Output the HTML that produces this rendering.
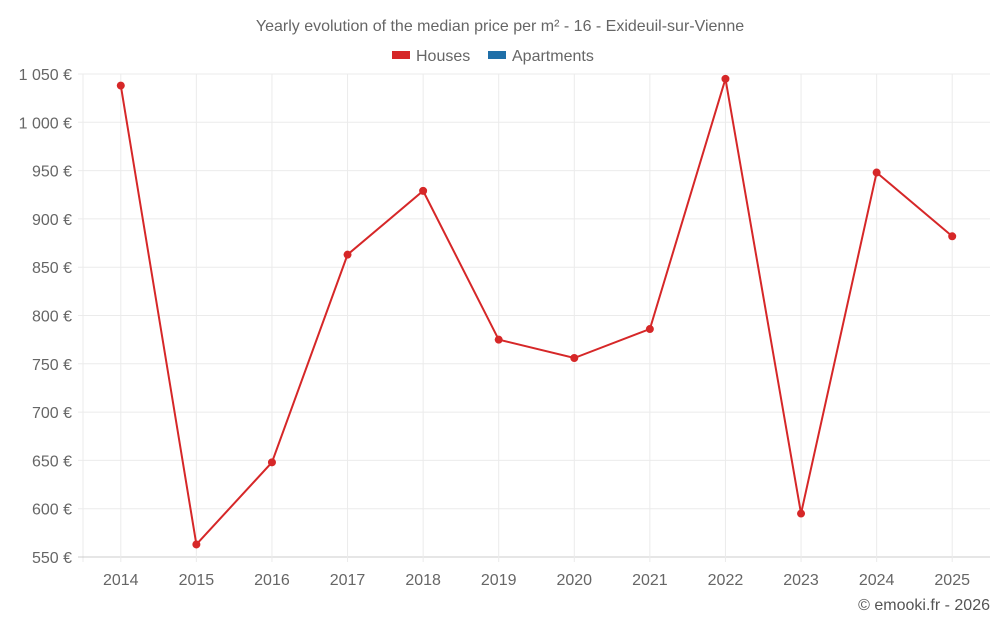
<!DOCTYPE html>
<html><head><meta charset="utf-8"><style>
body{margin:0;background:#fff;font-family:"Liberation Sans",sans-serif;}
svg text{font-family:"Liberation Sans",sans-serif;}
</style></head><body>
<svg id="chart" width="1000" height="625">
<text x="500" y="31" text-anchor="middle" font-size="16" fill="#666">Yearly evolution of the median price per m² - 16 - Exideuil-sur-Vienne</text>
<g>
<g><rect x="392" y="51" width="18" height="8" fill="#d62728"/><text x="416" y="61" font-size="16" fill="#666">Houses</text></g>
<g><rect x="488" y="51" width="18" height="8" fill="#1f6fa8"/><text x="512" y="61" font-size="16" fill="#666">Apartments</text></g>
</g>
<g id="grid"></g><g id="axes"></g><g id="series"></g>
<text x="990" y="610" text-anchor="end" font-size="16" fill="#555">© emooki.fr - 2026</text>
</svg>
<script>
const years=["2014","2015","2016","2017","2018","2019","2020","2021","2022","2023","2024","2025"];
const houses=[1038,563,648,863,929,775,756,786,1045,595,948,882];
const yTicks=[550,600,650,700,750,800,850,900,950,1000,1050];
const yLabels=["550 €","600 €","650 €","700 €","750 €","800 €","850 €","900 €","950 €","1 000 €","1 050 €"];
const NS="http://www.w3.org/2000/svg";
const L=83,R=990,T=74,B=557,yMin=550,yMax=1050;
const step=(R-L)/years.length;
const x=i=>L+step*(i+0.5);
const y=v=>B-(v-yMin)/(yMax-yMin)*(B-T);
function mk(t,a,p){const e=document.createElementNS(NS,t);for(const k in a)e.setAttribute(k,a[k]);p.appendChild(e);return e;}
const grid=document.getElementById('grid'),axes=document.getElementById('axes'),ser=document.getElementById('series');
const left=mk('line',{x1:L,x2:L,y1:T,y2:B+5,stroke:'#ebebeb'},grid);


yTicks.forEach((v,i)=>{
 const g=mk('line',{x1:L-5,x2:R,y1:y(v),y2:y(v),stroke:i==0?'#ccc':'#ebebeb'},grid);
 
 
 const t=mk('text',{x:72,y:y(v)+6,'text-anchor':'end','font-size':16,fill:'#666'},axes);t.textContent=yLabels[i];
 
 
});
years.forEach((yr,i)=>{
 const l=mk('line',{x1:x(i),x2:x(i),y1:T,y2:B+5,stroke:'#ebebeb'},grid);
 
 
 const t=mk('text',{x:x(i),y:585,'text-anchor':'middle','font-size':16,fill:'#666'},axes);t.textContent=yr;
 
 
});
const pl=mk('polyline',{points:houses.map((v,i)=>x(i)+','+y(v)).join(' '),fill:'none',stroke:'#d62728','stroke-width':2},ser);


houses.forEach((v,i)=>{
 const c=mk('circle',{cx:x(i),cy:y(v),r:4,fill:'#d62728'},ser);
 
 
});
</script>
</body></html>
